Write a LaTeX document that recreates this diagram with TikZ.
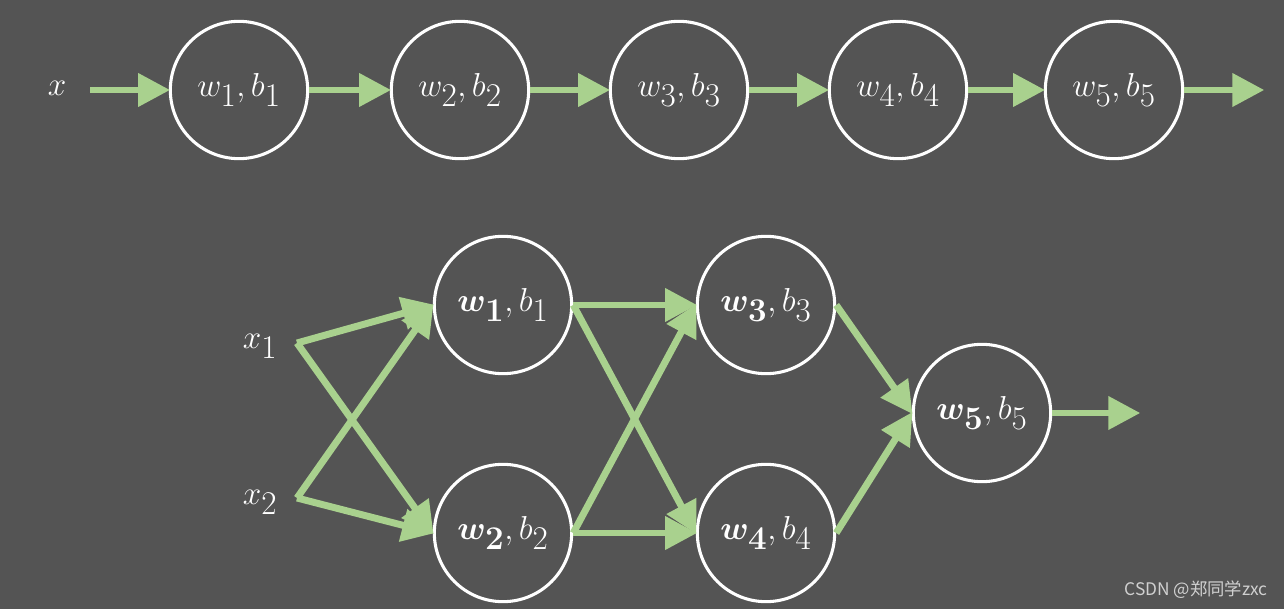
\documentclass[tikz,border=0pt]{standalone}
\usepackage{bm}
\usepackage{fontspec}
\newfontfamily\cjk{Noto Sans CJK SC}
\usetikzlibrary{arrows.meta}
\definecolor{bg}{HTML}{545454}
\definecolor{arr}{HTML}{A9D18E}
\definecolor{wm}{HTML}{D0D0D0}
\tikzset{
  neuron/.style={circle,draw=white,line width=2.3pt,minimum size=103pt,inner sep=0pt,text=white,font=\fontsize{34}{40}\selectfont},
  lbl/.style={text=white,font=\fontsize{34}{40}\selectfont,inner sep=0pt},
  conn/.style={draw=arr,line width=5.2pt,-{Triangle[length=24pt,width=24pt]},shorten >=-1pt},
}
\begin{document}
\begin{tikzpicture}[x=0.75pt,y=-0.75pt]
\fill[bg] (0,0) rectangle (1284,609);
\useasboundingbox (0,0) rectangle (1284,609);
% top row
\node[lbl] (x) at (57,88) {$x$};
\coordinate (xs) at (90,90);
\node[neuron] (t1) at (239,90) {$w_1,b_1$};
\node[neuron] (t2) at (460,90) {$w_2,b_2$};
\node[neuron] (t3) at (679,90) {$w_3,b_3$};
\node[neuron] (t4) at (898,90) {$w_4,b_4$};
\node[neuron] (t5) at (1114,90) {$w_5,b_5$};
\coordinate (tout) at (1263,90);
\draw[conn] (xs) -- (t1.west);
\draw[conn] (t1.east) -- (t2.west);
\draw[conn] (t2.east) -- (t3.west);
\draw[conn] (t3.east) -- (t4.west);
\draw[conn] (t4.east) -- (t5.west);
\draw[conn] (t5.east) -- (tout);
% bottom network
\node[lbl] (x1) at (260,346) {$x_1$};
\node[lbl] (x2) at (260,502) {$x_2$};
\coordinate (j1) at (297,343);
\coordinate (j2) at (297,498);
\node[neuron] (b1) at (503,305) {$\bm{w_1},b_1$};
\node[neuron] (b2) at (503,533) {$\bm{w_2},b_2$};
\node[neuron] (b3) at (766,305) {$\bm{w_3},b_3$};
\node[neuron] (b4) at (766,533) {$\bm{w_4},b_4$};
\node[neuron] (b5) at (982,413) {$\bm{w_5},b_5$};
\coordinate (bout) at (1139,413);
\draw[conn] (j1) -- (b1.west);
\draw[conn] (j1) -- (b2.west);
\draw[conn] (j2) -- (b1.west);
\draw[conn] (j2) -- (b2.west);
\draw[conn] (b1.east) -- (b3.west);
\draw[conn] (b1.east) -- (b4.west);
\draw[conn] (b2.east) -- (b3.west);
\draw[conn] (b2.east) -- (b4.west);
\draw[conn] (b3.east) -- (b5.west);
\draw[conn] (b4.east) -- (b5.west);
\draw[conn] (b5.east) -- (bout);
\node[text=wm,font=\cjk\fontsize{13}{15}\selectfont,inner sep=0pt] (wmk) at (1196,590) {CSDN @郑同学zxc};
\end{tikzpicture}
\end{document}
